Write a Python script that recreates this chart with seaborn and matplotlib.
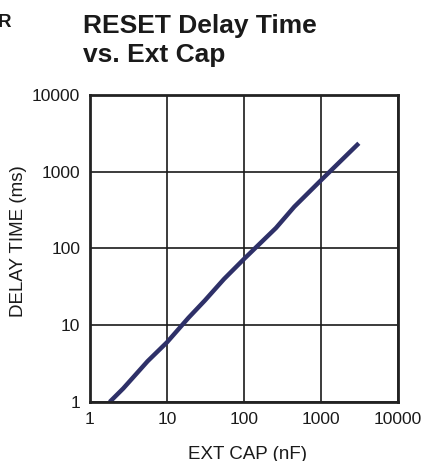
import matplotlib
matplotlib.use("Agg")
import matplotlib.pyplot as plt
import seaborn as sns
import pandas as pd
from matplotlib.ticker import FixedLocator, FixedFormatter, NullLocator

# Typical RESET delay versus external timing capacitor
cap_nf = [1.8, 2.7, 3.8, 5.6, 10, 19, 31, 55, 100, 260, 450, 1000, 3100]
delay_ms = [1.0, 1.5, 2.2, 3.4, 6.0, 12.5, 21, 40, 73, 185, 350, 775, 2350]

x_ticks = [1, 10, 100, 1000, 10000]
x_tick_labels = ["1", "10", "100", "1000", "10000"]
y_ticks = [1, 10, 100, 1000, 10000]
y_tick_labels = ["1", "10", "100", "1000", "10000"]

title_lines = ["RESET Delay Time", "vs. Ext Cap"]
x_label = "EXT CAP (nF)"
y_label = "DELAY TIME (ms)"

sns.set_style("white")
plt.rcParams["font.family"] = ["Liberation Sans", "DejaVu Sans"]

df = pd.DataFrame({"cap": cap_nf, "delay": delay_ms})

W, H = 421, 461
fig = plt.figure(figsize=(W / 100, H / 100), dpi=100)
ax = fig.add_axes([90 / W, 59 / H, 308 / W, 307 / H])

sns.lineplot(data=df, x="cap", y="delay", ax=ax, color="#2e3068",
             linewidth=3.2, solid_capstyle="butt")

ax.set_xscale("log")
ax.set_yscale("log")
ax.set_xlim(1, 10000)
ax.set_ylim(1, 10000)

ax.xaxis.set_major_locator(FixedLocator(x_ticks))
ax.xaxis.set_major_formatter(FixedFormatter(x_tick_labels))
ax.yaxis.set_major_locator(FixedLocator(y_ticks))
ax.yaxis.set_major_formatter(FixedFormatter(y_tick_labels))
ax.xaxis.set_minor_locator(NullLocator())
ax.yaxis.set_minor_locator(NullLocator())

ax.grid(True, which="major", color="#1a1a1a", linewidth=1.2)
ax.set_axisbelow(True)
for s in ax.spines.values():
    s.set_visible(True)
    s.set_color("#222222")
    s.set_linewidth(2)

ax.tick_params(axis="both", length=0, labelsize=12.5, colors="#1a1a1a", pad=7)

ax.set_xlabel(x_label, fontsize=13.5, color="#1a1a1a")
ax.set_ylabel(y_label, fontsize=13.5, color="#1a1a1a")
ax.xaxis.set_label_coords(0.51, -0.143)
ax.yaxis.set_label_coords(-0.205, 0.524)

fig.text(83 / W, 1 - 33 / H, title_lines[0], fontsize=19, fontweight="bold",
         color="#1a1a1a", ha="left", va="baseline")
fig.text(83 / W, 1 - 62 / H, title_lines[1], fontsize=19, fontweight="bold",
         color="#1a1a1a", ha="left", va="baseline")
fig.text(-2 / W, 1 - 27 / H, "R", fontsize=13.5, fontweight="bold",
         color="#1a1a1a", ha="left", va="baseline")

fig.savefig("out.png", dpi=100)
